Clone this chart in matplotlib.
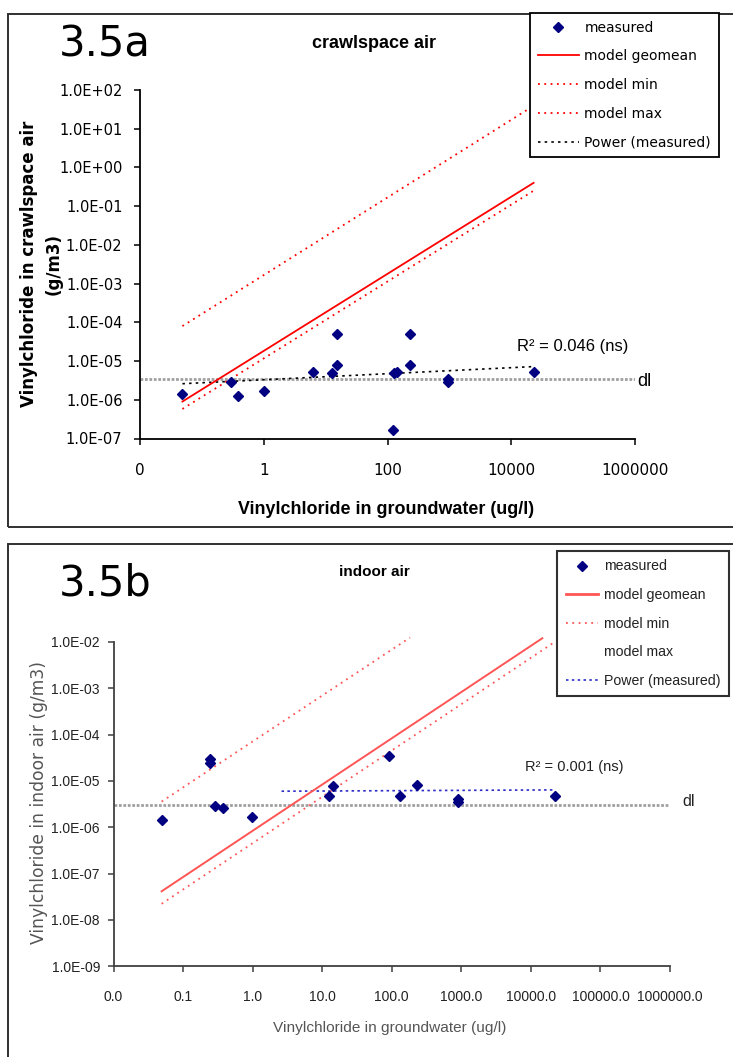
import matplotlib
matplotlib.use('Agg')
import matplotlib.pyplot as plt
from matplotlib import font_manager
from matplotlib.lines import Line2D
from matplotlib.patches import Rectangle
from matplotlib.ticker import FixedLocator, FuncFormatter, NullLocator

W, H = 733, 1057
DPI = 100

# ---------------- data: 3.5a crawlspace air ----------------
gw_a = [0.048, 0.29, 0.38, 1.0, 6.1, 12.8, 15.4, 15.4, 120, 126, 141, 231, 231, 942, 942, 22900]
air_a = [1.41e-6, 2.83e-6, 1.23e-6, 1.69e-6, 5.1e-6, 5.0e-6, 5.0e-5, 7.9e-6, 1.66e-7,
         4.9e-6, 5.1e-6, 5.1e-5, 7.9e-6, 3.4e-6, 2.83e-6, 5.1e-6]
model_x_a = [0.048, 22900]
geomean_a = [9.0e-7, 0.40]
min_a = [5.8e-7, 0.25]
max_a = [8.0e-5, 39.0]
trend_x_a = [0.048, 22900]
trend_y_a = [2.6e-6, 7.2e-6]
dl_a = 3.4e-6
xticks_a = [0.01, 1, 100, 1e4, 1e6]
yticks_a = [1e-7, 1e-6, 1e-5, 1e-4, 1e-3, 1e-2, 1e-1, 1e0, 1e1, 1e2]

# ---------------- data: 3.5b indoor air ----------------
gw_b = [0.049, 0.243, 0.243, 0.29, 0.378, 0.98, 12.7, 14.4, 90, 131, 229, 904, 904, 22500]
air_b = [1.41e-6, 2.93e-5, 2.4e-5, 2.88e-6, 2.64e-6, 1.69e-6, 4.84e-6, 7.96e-6, 3.5e-5,
         4.8e-6, 8.1e-6, 4.07e-6, 3.56e-6, 4.8e-6]
geomean_x_b = [0.049, 14600]
geomean_b = [4.15e-8, 1.2e-2]
min_x_b = [0.049, 21400]
min_b = [2.23e-8, 9.7e-3]
max_x_b = [0.049, 183]
max_b = [3.58e-6, 1.24e-2]
trend_x_b = [2.6, 22500]
trend_y_b = [6.0e-6, 6.4e-6]
dl_b = 3.1e-6
xticks_b = [0.01, 0.1, 1, 10, 100, 1e3, 1e4, 1e5, 1e6]
yticks_b = [1e-9, 1e-8, 1e-7, 1e-6, 1e-5, 1e-4, 1e-3, 1e-2]

legend_labels = ['measured', 'model geomean', 'model min', 'model max', 'Power (measured)']


def pick(*names):
    for n in names:
        try:
            font_manager.findfont(font_manager.FontProperties(family=n), fallback_to_default=False)
            return n
        except Exception:
            pass
    return 'DejaVu Sans'


ARIAL = pick('Liberation Sans', 'Arimo')
VERD = 'DejaVu Sans'

fig = plt.figure(figsize=(W / DPI, H / DPI), dpi=DPI)


def fx(x):
    return x / W


def fy(y):
    return 1 - y / H


def axes_px(left, top, right, bottom):
    return fig.add_axes([fx(left), fy(bottom), (right - left) / W, (bottom - top) / H])


# panel frames
fig.add_artist(Rectangle((fx(8.4), fy(527)), (745 - 8.4) / W, (527 - 13.5) / H,
                         transform=fig.transFigure, fill=False, ec='#303030', lw=1.4, clip_on=False))
fig.add_artist(Rectangle((fx(8.4), fy(1070)), (745 - 8.4) / W, (1070 - 544) / H,
                         transform=fig.transFigure, fill=False, ec='#303030', lw=1.4, clip_on=False))

NAVY = '#000080'

# ================= panel a =================
axa = axes_px(140.3, 90, 635, 438.5)
axa.set_xscale('log')
axa.set_yscale('log')
axa.set_xlim(0.01, 1e6)
axa.set_ylim(1e-7, 1e2)
for s in ['top', 'right']:
    axa.spines[s].set_visible(False)
for s in ['left', 'bottom']:
    axa.spines[s].set_linewidth(1.3)
axa.xaxis.set_major_locator(FixedLocator(xticks_a))
axa.yaxis.set_major_locator(FixedLocator(yticks_a))
axa.xaxis.set_minor_locator(NullLocator())
axa.yaxis.set_minor_locator(NullLocator())
axa.xaxis.set_major_formatter(FuncFormatter(lambda v, p: f"{v:.0f}"))
axa.yaxis.set_major_formatter(FuncFormatter(lambda v, p: f"{v:.1E}"))
axa.tick_params(axis='y', direction='out', length=4.3, width=1.1, pad=8.5, labelsize=10.5)
axa.tick_params(axis='x', direction='out', length=4.3, width=1.1, pad=13, labelsize=11)

axa.axhline(dl_a, color='#a0a0a0', lw=2.0, ls=(0, (1, 0.6)), zorder=1)
axa.plot(trend_x_a, trend_y_a, color='black', lw=1.2, ls=(0, (1.5, 2.5)), zorder=2)
axa.plot(model_x_a, geomean_a, color='#ff0000', lw=1.3, zorder=3)
axa.plot(model_x_a, min_a, color='#ff0000', lw=1.3, ls=(0, (1, 2.5)), zorder=3)
axa.plot(model_x_a, max_a, color='#ff0000', lw=1.3, ls=(0, (1, 2.5)), zorder=3)
axa.plot(gw_a, air_a, ls='none', marker='D', ms=5.2, color=NAVY, zorder=4)

axa.set_xlabel('Vinylchloride in groundwater (ug/l)', family=ARIAL, fontweight='bold', fontsize=12.9)
axa.xaxis.set_label_coords(0.497, -0.178)
axa.set_ylabel('Vinylchloride in crawlspace air\n(g/m3)', family=VERD, fontweight='bold',
               fontsize=12, linespacing=1.45)
axa.yaxis.set_label_coords(-0.157, 0.5)

fig.text(fx(374), fy(43), 'crawlspace air', family=ARIAL, fontweight='bold', fontsize=13,
         ha='center', va='center')
fig.text(fx(59), fy(44.5), '3.5a', family=VERD, fontsize=30, ha='left', va='center')
fig.text(fx(516.7), fy(346.7), 'R² = 0.046 (ns)', family=ARIAL, fontsize=12, ha='left', va='center')
fig.text(fx(637), fy(381.5), 'dl', family=ARIAL, fontsize=13, ha='left', va='center')

handles_a = [
    Line2D([], [], ls='none', marker='D', ms=5.2, color=NAVY),
    Line2D([], [], color='#ff0000', lw=1.3),
    Line2D([], [], color='#ff0000', lw=1.3, ls=(0, (1, 2.5))),
    Line2D([], [], color='#ff0000', lw=1.3, ls=(0, (1, 2.5))),
    Line2D([], [], color='black', lw=1.2, ls=(0, (1.5, 2.5))),
]
leg_a = fig.legend(handles_a, legend_labels, loc='upper left', bbox_to_anchor=(fx(530), fy(13)),
                   bbox_transform=fig.transFigure, frameon=True, fancybox=False, framealpha=1,
                   edgecolor='black', borderaxespad=0, borderpad=0.55, labelspacing=1.06,
                   handlelength=3.0, handletextpad=0.36, numpoints=1,
                   prop={'family': VERD, 'size': 10})
leg_a.get_frame().set_linewidth(1.3)

# ================= panel b =================
axb = axes_px(113.6, 641.9, 670, 966.3)
axb.set_xscale('log')
axb.set_yscale('log')
axb.set_xlim(0.01, 1e6)
axb.set_ylim(1e-9, 1e-2)
for s in ['top', 'right']:
    axb.spines[s].set_visible(False)
for s in ['left', 'bottom']:
    axb.spines[s].set_linewidth(1.3)
    axb.spines[s].set_color('#404040')
axb.xaxis.set_major_locator(FixedLocator(xticks_b))
axb.yaxis.set_major_locator(FixedLocator(yticks_b))
axb.xaxis.set_minor_locator(NullLocator())
axb.yaxis.set_minor_locator(NullLocator())
axb.xaxis.set_major_formatter(FuncFormatter(lambda v, p: f"{v:.1f}"))
axb.yaxis.set_major_formatter(FuncFormatter(lambda v, p: f"{v:.1E}"))
axb.tick_params(axis='y', direction='out', length=4, width=1.1, pad=5.8, labelsize=10,
                color='#404040', labelcolor='#222222')
axb.tick_params(axis='x', direction='out', length=4, width=1.1, pad=13, labelsize=10,
                color='#404040', labelcolor='#222222')
for lab in axb.get_xticklabels() + axb.get_yticklabels():
    lab.set_family(ARIAL)

RED_B = '#ff5555'
axb.axhline(dl_b, color='#a0a0a0', lw=2.0, ls=(0, (1, 0.6)), zorder=1)
axb.plot(trend_x_b, trend_y_b, color='#2b2bc8', lw=1.2, ls=(0, (1.5, 2)), zorder=2)
axb.plot(geomean_x_b, geomean_b, color=RED_B, lw=1.4, zorder=3, clip_on=False)
axb.plot(min_x_b, min_b, color=RED_B, lw=1.3, ls=(0, (1, 2.5)), zorder=3, clip_on=False)
axb.plot(max_x_b, max_b, color=RED_B, lw=1.3, ls=(0, (1, 2.5)), zorder=3, clip_on=False)
axb.plot(gw_b, air_b, ls='none', marker='D', ms=5.0, color=NAVY, zorder=4)

axb.set_xlabel('Vinylchloride in groundwater (ug/l)', family=ARIAL, fontsize=11.1, color='#555555')
axb.xaxis.set_label_coords(0.497, -0.17)
axb.set_ylabel('Vinylchloride in indoor air (g/m3)', family=VERD, fontsize=12.3, color='#555555')
axb.yaxis.set_label_coords(-0.118, 0.506)

fig.text(fx(374), fy(572), 'indoor air', family=ARIAL, fontweight='bold', fontsize=11,
         ha='center', va='center')
fig.text(fx(59), fy(584), '3.5b', family=VERD, fontsize=30, ha='left', va='center')
fig.text(fx(525), fy(766.7), 'R² = 0.001 (ns)', family=ARIAL, fontsize=10.5, ha='left', va='center',
         color='#222222')
fig.text(fx(682), fy(801), 'dl', family=ARIAL, fontsize=11.5, ha='left', va='center', color='#222222')

handles_b = [
    Line2D([], [], ls='none', marker='D', ms=5.0, color=NAVY),
    Line2D([], [], color=RED_B, lw=2.0),
    Line2D([], [], color=RED_B, lw=1.3, ls=(0, (1, 2.5))),
    Line2D([], [], color='none', lw=1.3),
    Line2D([], [], color='#2b2bc8', lw=1.2, ls=(0, (1.5, 2))),
]
leg_b = fig.legend(handles_b, legend_labels, loc='upper left', bbox_to_anchor=(fx(557), fy(551)),
                   bbox_transform=fig.transFigure, frameon=True, fancybox=False, framealpha=1,
                   edgecolor='#303030', borderaxespad=0, borderpad=0.6, labelspacing=1.03,
                   handlelength=2.3, handletextpad=0.42, numpoints=1,
                   prop={'family': ARIAL, 'size': 10.2})
leg_b.get_frame().set_linewidth(1.5)
for t in leg_b.get_texts():
    t.set_color('#222222')

fig.savefig('out.png', dpi=DPI)
